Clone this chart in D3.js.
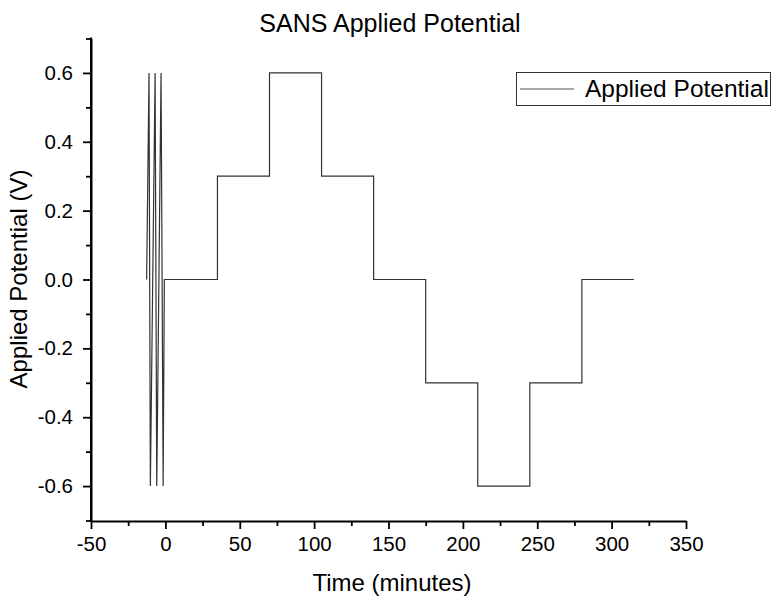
<!DOCTYPE html>
<html>
<head>
<meta charset="utf-8">
<script src="https://cdn.jsdelivr.net/npm/d3@7"></script>
<style>
  body { margin: 0; background: #fff; }
  svg text { font-family: "Liberation Sans", Arial, sans-serif; fill: #000; }
</style>
</head>
<body>
<svg id="chart" width="775" height="597"></svg>
<script>
// potential vs time: quick CV sweeps first, then 35 min potential steps
const timeMin = [-12.6, -11.0, -10.1, -6.9, -5.8, -2.9, -1.5, -0.7,
                 35, 35, 70, 70, 105, 105, 140, 140, 175, 175, 210, 210, 245, 245, 280, 280, 315]
const potentialV = [0, 0.6, -0.6, 0.6, -0.6, 0.6, -0.6, 0,
                    0, 0.3, 0.3, 0.6, 0.6, 0.3, 0.3, 0, 0, -0.3, -0.3, -0.6, -0.6, -0.3, -0.3, 0, 0]
const xTicks = [-50, 0, 50, 100, 150, 200, 250, 300, 350]
const xMinor = [-25, 25, 75, 125, 175, 225, 275, 325]
const yTicks = [-0.6, -0.4, -0.2, 0, 0.2, 0.4, 0.6]
const yMinor = [-0.7, -0.5, -0.3, -0.1, 0.1, 0.3, 0.5, 0.7]

const svg = d3.select('#chart')
const x = d3.scaleLinear().domain([-50, 350]).range([91, 686])
const y = d3.scaleLinear().domain([-0.7, 0.7]).range([520.5, 38.5])
const x0 = 91, y0 = 521

// minor ticks first so the majors sit on top
svg.append('g')
    .attr('transform', `translate(0,${y0})`)
    .call(d3.axisBottom(x).tickValues(xMinor).tickSize(5).tickFormat(''))
    .call(g => g.select('.domain').remove())
svg.append('g')
    .attr('transform', `translate(${x0},0)`)
    .call(d3.axisLeft(y).tickValues(yMinor).tickSize(5).tickFormat(''))
    .call(g => g.select('.domain').remove())

// plain hyphen for negatives, like the original plot
const xAxis = svg.append('g')
    .attr('transform', `translate(0,${y0})`)
    .call(d3.axisBottom(x).tickValues(xTicks).tickSize(8).tickSizeOuter(0).tickPadding(7)
        .tickFormat(d => String(d)))
xAxis.selectAll('text').style('font-size', '20.5px').attr('dy', '0.71em')

const yAxis = svg.append('g')
    .attr('transform', `translate(${x0},0)`)
    .call(d3.axisLeft(y).tickValues(yTicks).tickSize(8).tickSizeOuter(0).tickPadding(10)
        .tickFormat(d => (Math.abs(d) < 1e-9 ? 0 : d).toFixed(1)))
yAxis.selectAll('text').style('font-size', '20.5px')

svg.selectAll('.domain').attr('stroke', '#000').attr('stroke-width', 2)
svg.selectAll('.tick line').attr('stroke', '#000').attr('stroke-width', 1.8)

// keep the left axis running to the top of the range
svg.append('line')
    .attr('x1', x0).attr('x2', x0)
    .attr('y1', y(0.7) - 1).attr('y2', y0)
    .attr('stroke', '#000').attr('stroke-width', 2)

const line = d3.line()
    .x((d, i) => x(timeMin[i]))
    .y((d, i) => y(potentialV[i]))

svg.append('path')
    .datum(potentialV)
    .attr('d', line)
    .attr('fill', 'none')
    .attr('stroke', '#333')
    .attr('stroke-width', 1.2)

// titles
svg.append('text')
    .attr('x', 390).attr('y', 32)
    .attr('text-anchor', 'middle')
    .style('font-size', '25px')
    .text('SANS Applied Potential')

svg.append('text')
    .attr('x', 392).attr('y', 590.5)
    .attr('text-anchor', 'middle')
    .style('font-size', '24px')
    .text('Time (minutes)')

svg.append('text')
    .attr('transform', 'translate(27,279) rotate(-90)')
    .attr('text-anchor', 'middle')
    .style('font-size', '24px')
    .text('Applied Potential (V)')

// legend
const legend = svg.append('g')
legend.append('rect')
    .attr('x', 516.5).attr('y', 72.5)
    .attr('width', 254).attr('height', 33)
    .attr('fill', '#fff')
    .attr('stroke', '#333')
    .attr('stroke-width', 1)
legend.append('line')
    .attr('x1', 520).attr('x2', 574)
    .attr('y1', 89).attr('y2', 89)
    .attr('stroke', '#555')
    .attr('stroke-width', 1.2)
legend.append('text')
    .attr('x', 585).attr('y', 97)
    .style('font-size', '24.5px')
    .text('Applied Potential')
</script>
</body>
</html>
